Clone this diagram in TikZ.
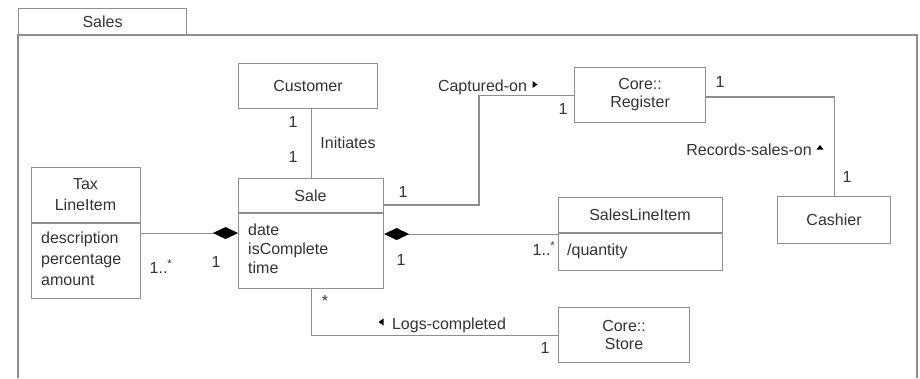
\documentclass[tikz,border=0pt]{standalone}
\usepackage{fontspec}
\setmainfont{Liberation Sans}
\usetikzlibrary{arrows.meta,calc}
\definecolor{ln}{HTML}{8E8E8E}
\definecolor{tx}{HTML}{333333}
\begin{document}
\begin{tikzpicture}[x=1pt,y=-1pt,
  every node/.style={text=tx, font=\fontsize{16}{18}\selectfont, inner sep=0pt},
  box/.style={draw=ln, line width=1.1pt, rectangle, anchor=north west, align=center},
  conn/.style={draw=ln, line width=1.1pt},
  comp/.style={{Diamond[length=25pt,width=12pt,fill=black,color=black]}-},
  tri/.style={fill=black}]
\useasboundingbox (0,0) rectangle (920,378);
% package
\node[box, minimum width=168pt, minimum height=27pt] (tab) at (18,8) {Sales};
\coordinate (fbl) at (18,378);
\coordinate (fbr) at (917,378);
\draw[conn] (fbl) -- (18,35) -- (917,35) -- (fbr);
% classes
\node[box, minimum width=139pt, minimum height=45pt] (cust) at (238,63) {Customer};
\node[box, minimum width=145pt, minimum height=110pt] (sale) at (238,178) {};
\node[box, minimum width=109pt, minimum height=131pt] (tax) at (31,167) {};
\node[box, minimum width=131pt, minimum height=55pt] (reg) at (574,67) {Core::\\Register};
\node[box, minimum width=113pt, minimum height=47pt] (cash) at (777,196) {Cashier};
\node[box, minimum width=164pt, minimum height=73pt] (sli) at (558,197) {};
\node[box, minimum width=131pt, minimum height=55pt] (store) at (558,307) {Core::\\Store};
% compartments
\draw[conn] (sale.west |- 0,213) -- (sale.east |- 0,213);
\draw[conn] (tax.west |- 0,223) -- (tax.east |- 0,223);
\draw[conn] (sli.west |- 0,233) -- (sli.east |- 0,233);
\node (saleT) at (310.5,195.5) {Sale};
\node[anchor=north west, align=left, font=\fontsize{16}{19}\selectfont] (saleA) at (248,224) {date\\isComplete\\time};
\node[align=center, font=\fontsize{16}{21}\selectfont] (taxT) at (85.5,195) {Tax\\LineItem};
\node[anchor=north west, align=left, font=\fontsize{16}{21}\selectfont] (taxA) at (41,232) {description\\percentage\\amount};
\node (sliT) at (640,215) {SalesLineItem};
\node[anchor=west] (sliA) at (567,251) {/quantity};
% connectors
\draw[conn] (sale.north) -- (sale.north |- cust.south);
\draw[conn, comp] (sale.west |- tax.east) -- (tax.east);
\draw[conn, comp] (sale.east |- sli.west) -- (sli.west);
\draw[conn] (sale.east |- 0,205) -- (479,205) |- (reg.west);
\draw[conn] (reg.east |- 0,97) -| (cash.north);
\draw[conn] (sale.south) |- (store.west);
% labels
\node (m1) at (293,122) {1};
\node (m2) at (293,157) {1};
\node (lInit) at (348,143) {Initiates};
\node (m3) at (403,192) {1};
\node (lCap) at (482.5,87) {Captured-on};
\fill[tri] (532.5,81) -- (537.5,84.5) -- (532.5,88) -- cycle;
\node (m4) at (563,109) {1};
\node (m5) at (720,82) {1};
\node (lRec) at (749,150) {Records-sales-on};
\fill[tri] (816.5,149.5) -- (820,145) -- (823.5,149.5) -- cycle;
\node (m6) at (847,177) {1};
\node (m7) at (161,267) {1..\textsuperscript{*}};
\node (m8) at (216,262) {1};
\node (m9) at (401,260) {1};
\node (m10) at (544,249) {1..\textsuperscript{*}};
\node (m11) at (325,301) {*};
\fill[tri] (383.5,318.5) -- (378.5,322) -- (383.5,325.5) -- cycle;
\node (lLog) at (449,325) {Logs-completed};
\node (m12) at (545,348) {1};
\end{tikzpicture}
\end{document}
